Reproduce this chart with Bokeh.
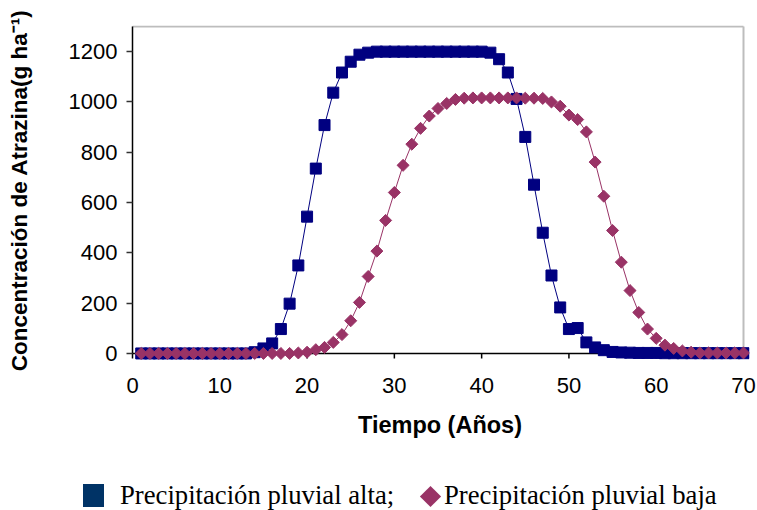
import numpy as np
from bokeh.plotting import figure
from bokeh.layouts import column
from bokeh.models import Range1d, FixedTicker, Div
from bokeh.embed import file_html
from bokeh.resources import INLINE

# ---------------- data ----------------
years = list(range(1, 71))
alta = [0, 0, 0, 0, 0, 0, 0, 0, 0, 0, 0, 0, 0,
        5, 20, 40, 97, 198, 350, 544, 735, 908, 1037, 1117, 1160, 1188, 1196,
        1200, 1200, 1200, 1200, 1200, 1200, 1200, 1200, 1200, 1200, 1200, 1200, 1200,
        1196, 1170, 1117, 1012, 861, 671, 480, 310, 183, 97, 101, 44, 24, 13,
        6, 4, 3, 2, 2, 2, 1, 1, 1, 1, 1, 1, 1, 1, 1, 1]
baja = [0, 0, 0, 0, 0, 0, 0, 0, 0, 0, 0, 0, 0, 0, 0, 0, 0, 0,
        2, 5, 15, 24, 44, 75, 130, 203, 306, 407, 529, 640, 748, 832, 895, 944, 974, 994, 1010,
        1015, 1016, 1016, 1016, 1016, 1016, 1016, 1015, 1015, 1014,
        1000, 983, 948, 930, 881, 761, 625, 489, 363, 250, 163, 97, 60, 33, 20, 10, 5,
        2, 2, 2, 2, 2, 2]
x_ticks = [0, 10, 20, 30, 40, 50, 60, 70]
y_ticks = [0, 200, 400, 600, 800, 1000, 1200]
x_title = "Tiempo (Años)"
y_title = "\u00a0Concentración de Atrazina(g ha⁻¹)"
legend_alta = "Precipitación pluvial alta;"
legend_baja = "Precipitación pluvial baja"

X_MAX = 70
Y_MAX = 1300

# ---------------- geometry ----------------
FW, FH = 619, 336
kx = 611 / X_MAX          # px per x unit
X_LO = -2 / kx
X_HI = X_LO + FW / kx
Y_HI = 1304
Y_LO = -32
ky = FH / (Y_HI - Y_LO)
tick_len = 5 / ky

p = figure(frame_width=FW, frame_height=FH,
           min_border_left=130, min_border_right=8,
           min_border_top=25, min_border_bottom=89,
           x_range=Range1d(X_LO, X_HI), y_range=Range1d(Y_LO, Y_HI),
           output_backend="svg", toolbar_location=None)
p.outline_line_color = None
p.grid.visible = False
p.background_fill_color = "white"
p.border_fill_color = "white"

# x axis
xa = p.xaxis[0]
xa.ticker = FixedTicker(ticks=x_ticks)
xa.axis_line_color = None
xa.major_tick_line_color = None
xa.minor_tick_line_color = None
xa.major_tick_in = 0
xa.major_tick_out = 0
xa.major_label_standoff = 16
xa.major_label_text_font = "Liberation Sans"
xa.major_label_text_font_size = "22px"
xa.major_label_text_color = "black"
xa.axis_label = x_title
xa.axis_label_text_font = "Liberation Sans"
xa.axis_label_text_font_style = "bold"
xa.axis_label_text_font_size = "23.5px"
xa.axis_label_text_color = "black"
xa.axis_label_standoff = 16

# y axis
ya = p.yaxis[0]
ya.ticker = FixedTicker(ticks=y_ticks)
ya.axis_line_color = None
ya.major_tick_line_color = "#333333"
ya.major_tick_line_width = 1.5
ya.minor_tick_line_color = None
ya.major_tick_in = 2
ya.major_tick_out = 4
ya.major_label_standoff = 9
ya.major_label_text_font = "Liberation Sans"
ya.major_label_text_font_size = "22px"
ya.major_label_text_color = "black"
ya.axis_label = y_title
ya.axis_label_text_font = "Liberation Sans"
ya.axis_label_text_font_style = "bold"
ya.axis_label_text_font_size = "22.5px"
ya.axis_label_text_color = "black"
ya.axis_label_standoff = 34

# plot-area border (grey, top & right)
p.segment(x0=[0, X_MAX], y0=[Y_MAX, 0], x1=[X_MAX, X_MAX], y1=[Y_MAX, Y_MAX],
          line_color="#bdbdbd", line_width=2)
# axis lines
p.segment(x0=[0, 0], y0=[0, 0], x1=[X_MAX, 0], y1=[0, Y_MAX],
          line_color="black", line_width=1.5)
# x ticks (outside, below the axis line)
p.segment(x0=x_ticks, y0=[0] * len(x_ticks), x1=x_ticks, y1=[-tick_len] * len(x_ticks),
          line_color="black", line_width=1.5)

# series
p.line(years, alta, line_color="#000080", line_width=1)
p.scatter(years, alta, marker="square", size=11, fill_color="#000080",
          line_color="#000080", line_width=1)
p.line(years, baja, line_color="#993366", line_width=1)
p.scatter(years, baja, marker="square", angle=np.pi / 4, size=8.5,
          fill_color="#993366", line_color="#993366", line_width=1)

# legend below the chart
txt = ("position:absolute; white-space:nowrap; font-family:'Liberation Serif'; "
       "font-size:26.7px; line-height:26px; color:black;")
legend_html = (
    '<div style="position:relative; width:757px; height:60px;">'
    '<div style="position:absolute; left:83px; top:34px; width:21px; height:23px; '
    'background:#003366;"></div>'
    f'<span style="{txt} left:120px; top:31.5px;">{legend_alta}</span>'
    '<div style="position:absolute; left:423px; top:38.5px; width:15px; height:15px; '
    'background:#993366; transform:rotate(45deg);"></div>'
    f'<span style="{txt} left:444px; top:31.5px;">{legend_baja}</span>'
    '</div>'
)
legend = Div(text=legend_html, width=757, height=60, margin=(0, 0, 0, 0))

layout = column(p, legend, spacing=0)
open("out.html", "w").write(file_html(layout, INLINE))
